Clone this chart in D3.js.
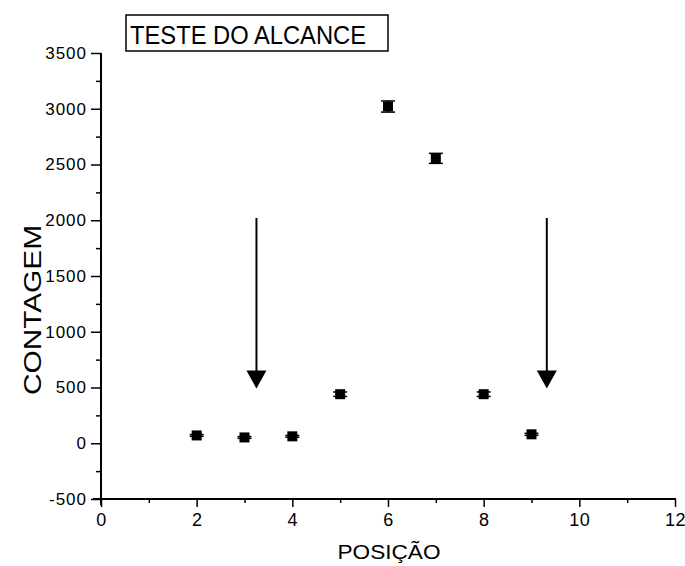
<!DOCTYPE html>
<html><head><meta charset="utf-8">
<script src="https://cdn.jsdelivr.net/npm/d3@7"></script>
<style>body{margin:0;background:#fff}svg{display:block}</style>
</head><body>
<svg id="c" width="685" height="566"></svg>
<script>
const positions = [2, 3, 4, 5, 6, 7, 8, 9];
const counts = [70, 52, 62, 440, 3020, 2555, 440, 80];
const errors = [8, 8, 8, 20, 50, 45, 20, 9];
const xTicks = [0, 2, 4, 6, 8, 10, 12];
const yTicks = [-500, 0, 500, 1000, 1500, 2000, 2500, 3000, 3500];
const arrowX = [3.25, 9.32];
const arrowFrom = [2020, 2020];
const arrowTo = [490, 490];
const title = "TESTE DO ALCANCE";
const xLabel = "POSIÇÃO";
const yLabel = "CONTAGEM";

const svg = d3.select("#c");
const font = "'Liberation Sans', Arial, sans-serif";
const x = d3.scaleLinear().domain([0, 12]).range([101, 675]);
const y = d3.scaleLinear().domain([-500, 3500]).range([499, 53]);
const fmt = d => String(d).replace("\u2212", "-");

// axes
const gx = svg.append("g").attr("transform", `translate(0,${y(-500)})`)
  .call(d3.axisBottom(x).tickValues(xTicks).tickSize(8).tickPadding(6).tickFormat(fmt));
gx.append("g").call(d3.axisBottom(x).tickValues(d3.range(1, 12, 2)).tickSize(4).tickFormat(""));
const gy = svg.append("g").attr("transform", `translate(${x(0)},0)`)
  .call(d3.axisLeft(y).tickValues(yTicks).tickSize(10).tickPadding(4).tickFormat(fmt));
gy.append("g").call(d3.axisLeft(y).tickValues(d3.range(-250, 3500, 500)).tickSize(5).tickFormat(""));
[gx, gy].forEach(g => {
  g.selectAll(".domain").remove();
  g.selectAll("line").attr("stroke", "#000").attr("stroke-width", 1.5);
  g.selectAll("text").attr("fill", "#000").attr("font-family", font).attr("font-size", 17)
    .attr("letter-spacing", 1);
});
gx.selectAll("text").attr("font-size", 18).attr("letter-spacing", 0.5);
// axis lines
svg.append("line").attr("x1", x(0) - 8).attr("x2", x(12) + 1).attr("y1", y(-500)).attr("y2", y(-500))
  .attr("stroke", "#000").attr("stroke-width", 2);
svg.append("line").attr("x1", x(0)).attr("x2", x(0)).attr("y1", y(3500)).attr("y2", y(-500) + 6)
  .attr("stroke", "#000").attr("stroke-width", 2);

// error bars + points
const pts = svg.append("g");
positions.forEach((p, i) => {
  const cx = x(p), cy = y(counts[i]);
  const yt = y(counts[i] + errors[i]), yb = y(counts[i] - errors[i]);
  pts.append("line").attr("x1", cx).attr("x2", cx).attr("y1", yt).attr("y2", yb).attr("stroke", "#000").attr("stroke-width", 1.5);
  [yt, yb].forEach(v => pts.append("line").attr("x1", cx - 7).attr("x2", cx + 7).attr("y1", v).attr("y2", v)
    .attr("stroke", "#000").attr("stroke-width", 1.5));
  pts.append("rect").attr("x", cx - 5).attr("y", cy - 5).attr("width", 10).attr("height", 10).attr("fill", "#000");
});

// arrows
arrowX.forEach((a, i) => {
  const ax = x(a), y0 = y(arrowFrom[i]), y1 = y(arrowTo[i]);
  svg.append("line").attr("x1", ax).attr("x2", ax).attr("y1", y0).attr("y2", y1 - 16)
    .attr("stroke", "#000").attr("stroke-width", 2);
  svg.append("path").attr("d", `M${ax - 10},${y1 - 18}L${ax + 10},${y1 - 18}L${ax},${y1}Z`).attr("fill", "#000");
});

// title box
svg.append("rect").attr("x", 126).attr("y", 15).attr("width", 262).attr("height", 36)
  .attr("fill", "none").attr("stroke", "#000").attr("stroke-width", 1.5);
svg.append("text").attr("x", 130).attr("y", 44).attr("font-family", font).attr("font-size", 26)
  .attr("textLength", 236).attr("lengthAdjust", "spacingAndGlyphs").text(title);

// axis labels
svg.append("text").attr("x", 389).attr("y", 559).attr("text-anchor", "middle").attr("font-family", font)
  .attr("font-size", 21).attr("textLength", 103).attr("lengthAdjust", "spacingAndGlyphs").text(xLabel);
svg.append("text").attr("transform", "translate(41,310) rotate(-90)").attr("text-anchor", "middle")
  .attr("font-family", font).attr("font-size", 24).attr("textLength", 170)
  .attr("lengthAdjust", "spacingAndGlyphs").text(yLabel);
</script>
</body></html>
